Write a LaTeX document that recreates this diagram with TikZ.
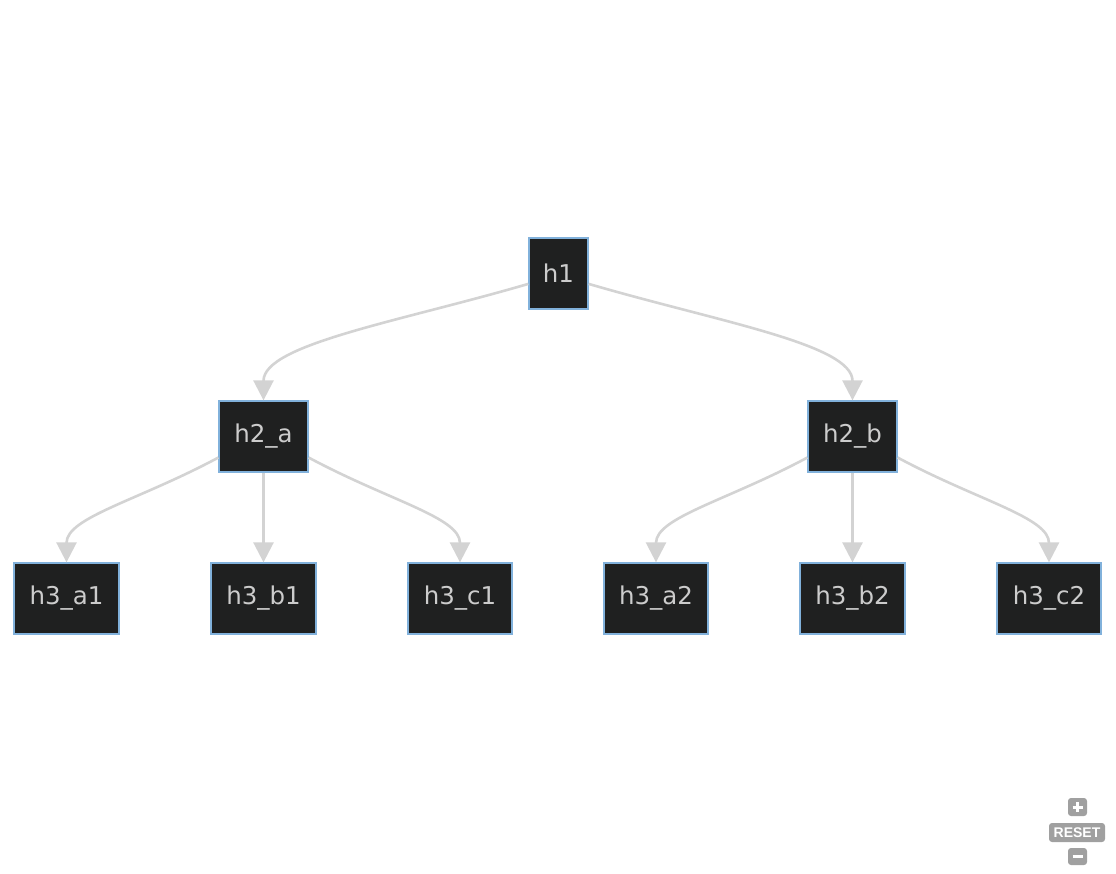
\documentclass[tikz,border=0pt]{standalone}
\usepackage{fontspec}
\setmainfont{DejaVu Sans}
\newfontfamily\ctrlfont{Liberation Sans}
\usetikzlibrary{arrows.meta}
\definecolor{nodefill}{HTML}{1F2020}
\definecolor{nodeborder}{HTML}{81B1DB}
\definecolor{nodetext}{HTML}{CCCCCC}
\definecolor{edgecol}{HTML}{D3D3D3}
\definecolor{ctrlgray}{HTML}{A0A0A0}
\begin{document}
\begin{tikzpicture}[x=1pt,y=-1pt,
  box/.style={draw=nodeborder, line width=1.3pt, fill=nodefill, text=nodetext,
    font=\fontsize{24.5}{28}\selectfont, minimum height=71pt, inner sep=0pt, anchor=center},
  edge/.style={draw=edgecol, line width=2.6pt, -{Triangle[length=20pt,width=20pt]}},
  ctrl/.style={fill=ctrlgray, rounded corners=3pt, text=white, inner sep=0pt,
    font=\ctrlfont\bfseries\fontsize{14}{14}\selectfont},
  glyph/.style={draw=white, line width=3pt}
]
\useasboundingbox (0,0) rectangle (1116,873);
\node[box, minimum width=59pt] (h1) at (558.5,273.5) {h1};
\node[box, minimum width=89pt] (h2a) at (263.5,436.5) {h2\_a};
\node[box, minimum width=89pt] (h2b) at (852.5,436.5) {h2\_b};
\node[box, minimum width=105pt] (h3a1) at (66.5,598.5) {h3\_a1};
\node[box, minimum width=105pt] (h3b1) at (263.5,598.5) {h3\_b1};
\node[box, minimum width=104pt] (h3c1) at (460,598.5) {h3\_c1};
\node[box, minimum width=104pt] (h3a2) at (656,598.5) {h3\_a2};
\node[box, minimum width=105pt] (h3b2) at (852.5,598.5) {h3\_b2};
\node[box, minimum width=104pt] (h3c2) at (1049,598.5) {h3\_c2};

\draw[edge] (h1.199) .. controls +(-130,38) and +(0,-56) .. (h2a.north);
\draw[edge] (h1.341) .. controls +(130,38) and +(0,-56) .. (h2b.north);

\draw[edge] (h2a.205) .. controls +(-80,43) and +(0,-45) .. (h3a1.north);
\draw[edge] (h2a.south) -- (h3b1.north);
\draw[edge] (h2a.335) .. controls +(80,43) and +(0,-45) .. (h3c1.north);

\draw[edge] (h2b.205) .. controls +(-80,43) and +(0,-45) .. (h3a2.north);
\draw[edge] (h2b.south) -- (h3b2.north);
\draw[edge] (h2b.335) .. controls +(80,43) and +(0,-45) .. (h3c2.north);

\node[ctrl, minimum width=19pt, minimum height=18pt] (plus) at (1077.5,807) {};
\draw[glyph] ([xshift=-5pt]plus.center) -- ([xshift=5pt]plus.center);
\draw[glyph] ([yshift=-5pt]plus.center) -- ([yshift=5pt]plus.center);
\node[ctrl, minimum width=56pt, minimum height=19pt] (reset) at (1077,832.5) {RESET};
\node[ctrl, minimum width=19pt, minimum height=17pt] (minus) at (1077.5,856.5) {};
\draw[glyph] ([xshift=-5pt]minus.center) -- ([xshift=5pt]minus.center);
\end{tikzpicture}
\end{document}
